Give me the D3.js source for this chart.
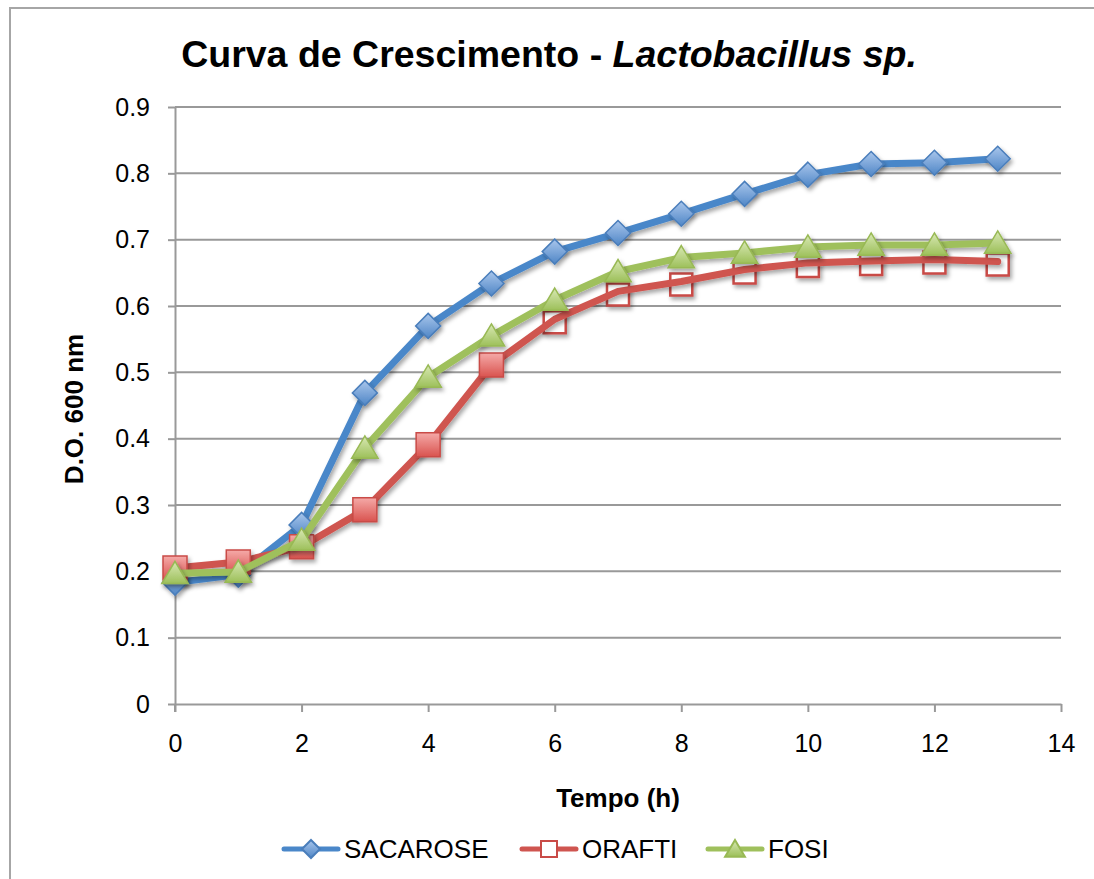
<!DOCTYPE html>
<html>
<head>
<meta charset="utf-8">
<script src="https://cdn.jsdelivr.net/npm/d3@7"></script>
<style>
  html, body { margin: 0; padding: 0; background: #ffffff; }
  svg { display: block; font-family: "Liberation Sans", Arial, Helvetica, sans-serif; }
</style>
</head>
<body>
<svg id="chart" width="1094" height="879"></svg>
<script>
// ---- data ----
const hours = [0, 1, 2, 3, 4, 5, 6, 7, 8, 9, 10, 11, 12, 13];
const sacarose = [0.183, 0.195, 0.270, 0.469, 0.570, 0.634, 0.682, 0.710, 0.739, 0.769, 0.798, 0.814, 0.816, 0.822];
const orafti   = [0.205, 0.214, 0.237, 0.293, 0.391, 0.511, 0.580, 0.622, 0.637, 0.655, 0.665, 0.668, 0.670, 0.667];
const fosi     = [0.197, 0.199, 0.247, 0.386, 0.493, 0.555, 0.609, 0.652, 0.673, 0.680, 0.689, 0.692, 0.692, 0.695];
const seriesNames = ["SACAROSE", "ORAFTI", "FOSI"];
const xTicks = [0, 2, 4, 6, 8, 10, 12, 14];
const yTicks = [0, 0.1, 0.2, 0.3, 0.4, 0.5, 0.6, 0.7, 0.8, 0.9];
const xTickLabels = ["0", "2", "4", "6", "8", "10", "12", "14"];
const yTickLabels = ["0", "0.1", "0.2", "0.3", "0.4", "0.5", "0.6", "0.7", "0.8", "0.9"];

const svg = d3.select("#chart");
const x = d3.scaleLinear().domain([0, 14]).range([175, 1061]);
const y = d3.scaleLinear().domain([0, 0.9]).range([704, 107]);

// defs
const defs = svg.append("defs");
const f = defs.append("filter").attr("id", "shadow").attr("x", "-50%").attr("y", "-50%").attr("width", "200%").attr("height", "200%");
f.append("feDropShadow").attr("dx", 2).attr("dy", 3).attr("stdDeviation", 2).attr("flood-color", "#000").attr("flood-opacity", 0.35);
function grad(id, c1, c2) {
  const g = defs.append("linearGradient").attr("id", id).attr("x1", 0).attr("y1", 0).attr("x2", 0).attr("y2", 1);
  g.append("stop").attr("offset", "0%").attr("stop-color", c1);
  g.append("stop").attr("offset", "100%").attr("stop-color", c2);
}
grad("gBlue", "#a9c6ec", "#4f86c6");
grad("gRed", "#f5aaa8", "#d9534f");
grad("gGreen", "#d8e8b4", "#9dc05a");

// outer border
svg.append("rect").attr("x", 10).attr("y", 8).attr("width", 1100).attr("height", 900)
  .attr("fill", "none").attr("stroke", "#a6a6a6").attr("stroke-width", 2);

// title
const title = svg.append("text").attr("x", 549).attr("y", 67).attr("text-anchor", "middle")
  .attr("font-size", 37.5).attr("font-weight", "bold").attr("fill", "#000");
title.append("tspan").text("Curva de Crescimento - ");
title.append("tspan").attr("font-style", "italic").text("Lactobacillus sp.");

// gridlines
svg.append("g").selectAll("line").data(yTicks.filter(d => d > 0)).join("line")
  .attr("x1", x(0)).attr("x2", x(14)).attr("y1", d => y(d)).attr("y2", d => y(d))
  .attr("stroke", "#999").attr("stroke-width", 2);

// axes
const gy = svg.append("g").attr("transform", `translate(${x(0)},0)`)
  .call(d3.axisLeft(y).tickValues(yTicks).tickFormat((d, i) => yTickLabels[i]).tickSize(7).tickSizeOuter(0).tickPadding(18));
const gx = svg.append("g").attr("transform", `translate(0,${y(0)})`)
  .call(d3.axisBottom(x).tickValues(xTicks).tickFormat((d, i) => xTickLabels[i]).tickSize(8).tickSizeOuter(0).tickPadding(22));
[gx, gy].forEach(g => {
  g.select(".domain").attr("stroke", "#999").attr("stroke-width", 2);
  g.selectAll(".tick line").attr("stroke", "#999").attr("stroke-width", 2);
  g.selectAll("text").attr("font-size", 25).attr("fill", "#000").attr("font-family", "Liberation Sans, Arial, sans-serif");
});
// y axis extends down to the x tick length
svg.append("line").attr("x1", x(0)).attr("x2", x(0)).attr("y1", y(0)).attr("y2", y(0) + 8).attr("stroke", "#999").attr("stroke-width", 2);

// axis titles
svg.append("text").attr("x", (x(0) + x(14)) / 2).attr("y", 807).attr("text-anchor", "middle")
  .attr("font-size", 26).attr("font-weight", "bold").text("Tempo (h)");
svg.append("text").attr("transform", `translate(83,409) rotate(-90)`).attr("text-anchor", "middle")
  .attr("font-size", 26).attr("font-weight", "bold").text("D.O. 600 nm");

// marker shapes
const diamond = r => `M0,${-r}L${r},0L0,${r}L${-r},0Z`;
const square = r => `M${-r},${-r}H${r}V${r}H${-r}Z`;
const triangle = r => `M0,${-r * 1.0}L${r * 1.1},${r * 0.85}L${-r * 1.1},${r * 0.85}Z`;

const line = d3.line().x((d, i) => x(hours[i])).y(d => y(d));
const plot = svg.append("g");

// SACAROSE
plot.append("path").datum(sacarose).attr("d", line).attr("fill", "none")
  .attr("stroke", "#4a87c9").attr("stroke-width", 7).attr("stroke-linejoin", "round").attr("filter", "url(#shadow)");
plot.append("g").selectAll("path").data(sacarose).join("path")
  .attr("transform", (d, i) => `translate(${x(hours[i])},${y(d)})`)
  .attr("d", diamond(12.5)).attr("fill", "url(#gBlue)").attr("stroke", "#4a7ebb").attr("stroke-width", 1.5).attr("filter", "url(#shadow)");

// ORAFTI: later markers rendered hollow beneath the line, early ones filled above
plot.append("g").selectAll("path").data(orafti.map((v, i) => ({ v, i })).filter(d => d.i >= 6)).join("path")
  .attr("transform", d => `translate(${x(hours[d.i])},${y(d.v) + 3})`)
  .attr("d", square(11)).attr("fill", "#fff").attr("stroke", "#c94b47").attr("stroke-width", 2.5).attr("filter", "url(#shadow)");
plot.append("path").datum(orafti).attr("d", line).attr("fill", "none")
  .attr("stroke", "#cf5550").attr("stroke-width", 7).attr("stroke-linejoin", "round").attr("stroke-linecap", "round").attr("filter", "url(#shadow)");
plot.append("g").selectAll("path").data(orafti.map((v, i) => ({ v, i })).filter(d => d.i < 6)).join("path")
  .attr("transform", d => `translate(${x(hours[d.i])},${y(d.v)})`)
  .attr("d", square(12)).attr("fill", "url(#gRed)").attr("stroke", "#c94b47").attr("stroke-width", 1.5).attr("filter", "url(#shadow)");

// FOSI
plot.append("path").datum(fosi).attr("d", line).attr("fill", "none")
  .attr("stroke", "#9fc05c").attr("stroke-width", 7).attr("stroke-linejoin", "round").attr("filter", "url(#shadow)");
plot.append("g").selectAll("path").data(fosi).join("path")
  .attr("transform", (d, i) => `translate(${x(hours[i])},${y(d)})`)
  .attr("d", triangle(12)).attr("fill", "url(#gGreen)").attr("stroke", "#98b954").attr("stroke-width", 1.5).attr("filter", "url(#shadow)");

// legend
const legendItems = [
  { name: seriesNames[0], x0: 284, color: "#4a87c9", shape: diamond(9), fill: "url(#gBlue)", stroke: "#4a7ebb" },
  { name: seriesNames[1], x0: 522, color: "#cf5550", shape: square(8), fill: "#fff", stroke: "#c94b47" },
  { name: seriesNames[2], x0: 708, color: "#9fc05c", shape: triangle(9), fill: "url(#gGreen)", stroke: "#98b954" }
];
const lg = svg.append("g").selectAll("g").data(legendItems).join("g")
  .attr("transform", d => `translate(${d.x0},849)`);
lg.append("line").attr("x1", 0).attr("x2", 54).attr("y1", 0).attr("y2", 0)
  .attr("stroke", d => d.color).attr("stroke-width", 5).attr("stroke-linecap", "round");
lg.append("path").attr("transform", "translate(27,0)").attr("d", d => d.shape)
  .attr("fill", d => d.fill).attr("stroke", d => d.stroke).attr("stroke-width", 2);
lg.append("text").attr("x", 60).attr("y", 9).attr("font-size", 26).attr("fill", "#000").text(d => d.name);
</script>
</body>
</html>
